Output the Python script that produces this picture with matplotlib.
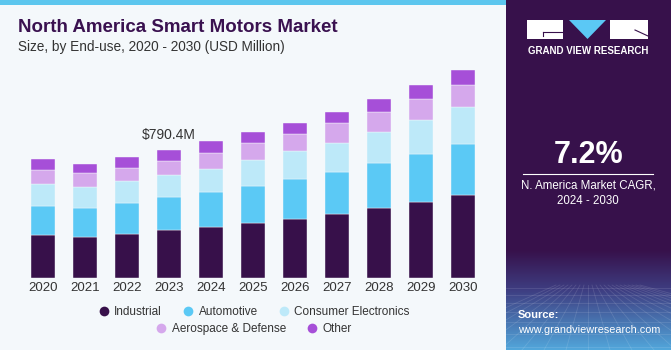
import numpy as np
import matplotlib.pyplot as plt
from matplotlib.patches import Rectangle, Polygon
from matplotlib.lines import Line2D

# data (USD Million)
years = ['2020', '2021', '2022', '2023', '2024', '2025', '2026', '2027', '2028', '2029', '2030']
industrial = [265, 256, 273, 296, 314, 343, 367, 398, 431, 468, 511]
automotive = [182, 179, 191, 203, 217, 226, 243, 257, 279, 299, 318]
consumer = [132, 129, 136, 137, 144, 158, 172, 180, 189, 209, 228]
aerospace = [90, 84, 82, 88, 99, 105, 105, 121, 127, 126, 136]
other = [64, 55, 66, 66, 72, 70, 70, 70, 78, 86, 92]
series_names = ['Industrial', 'Automotive', 'Consumer Electronics', 'Aerospace & Defense', 'Other']
colors = ['#37104A', '#5BC9F5', '#BDE9F9', '#D5A8EC', '#A64FD8']
callout_idx = 3
callout_text = '$790.4M'

W, H = 671, 350
BG = '#F4F8FB'
FONT = ['Liberation Sans', 'DejaVu Sans']
plt.rcParams['font.family'] = FONT


def fx(x):
    return x / W


def fy(y):
    return 1 - y / H


fig = plt.figure(figsize=(W / 100, H / 100), dpi=100, facecolor=BG)

# top strip
fig.patches.append(Rectangle((0, fy(5)), fx(506), 5 / H, transform=fig.transFigure,
                             facecolor='#5CC6EE', edgecolor='none', zorder=0))

# title
fig.text(fx(18), fy(28), 'North America Smart Motors Market', fontsize=13.5, fontweight='bold',
         color='#3A1150', va='center', ha='left')
fig.text(fx(18), fy(47), 'Size, by End-use, 2020 - 2030 (USD Million)', fontsize=9.8,
         color='#333333', va='center', ha='left')

# bars
base_y = 278.3
top_y = 60
ax = fig.add_axes([fx(22), fy(base_y), fx(484) - fx(22), (base_y - top_y) / H])
ax.set_facecolor(BG)
x = np.arange(len(years))
data = [industrial, automotive, consumer, aerospace, other]
bottom = np.zeros(len(years))
for vals, name, c in zip(data, series_names, colors):
    ax.bar(x, vals, width=0.57, bottom=bottom, color=c, label=name,
           edgecolor='#F4F8FB', linewidth=0.3)
    bottom = bottom + np.array(vals)

ax.annotate(callout_text, (x[callout_idx], bottom[callout_idx]), xytext=(0, 11),
            textcoords='offset points', ha='center', va='center', fontsize=10, color='#333333')

ax.set_xlim(-0.5, len(years) - 0.5)
ax.set_ylim(0, (base_y - top_y) * 790.4 / (base_y - 150))
ax.set_xticks(x)
ax.set_xticklabels(years, fontsize=9.5, color='#333333')
ax.tick_params(axis='x', length=0, pad=3)
ax.set_yticks([])
for s in ax.spines.values():
    s.set_visible(False)

# legend, two centered rows
handles = [Line2D([], [], marker='o', linestyle='none', markersize=7, markerfacecolor=c,
                  markeredgecolor='none') for c in colors]
leg1 = fig.legend(handles[:3], series_names[:3], loc='center', bbox_to_anchor=(fx(253), fy(312)),
                  ncol=3, frameon=False, fontsize=8.5, handletextpad=0.3, columnspacing=1.6,
                  handlelength=1.2, labelcolor='#333333')
leg2 = fig.legend(handles[3:], series_names[3:], loc='center', bbox_to_anchor=(fx(253), fy(329)),
                  ncol=2, frameon=False, fontsize=8.5, handletextpad=0.3, columnspacing=1.6,
                  handlelength=1.2, labelcolor='#333333')

# right panel
pax = fig.add_axes([fx(506), 0, 1 - fx(506), 1])
pax.set_xlim(506, 671)
pax.set_ylim(350, 0)
pax.axis('off')
rows = np.arange(350)
dark = np.array([0x37, 0x11, 0x4B]) / 255
mid = np.array([0x3E, 0x3E, 0x82]) / 255
low = np.array([0x52, 0xA8, 0xDC]) / 255
grad = np.zeros((350, 1, 3))
for r in rows:
    if r < 250:
        grad[r, 0] = dark
    elif r < 290:
        t = (r - 250) / 40
        grad[r, 0] = dark * (1 - t) + mid * t
    else:
        t = (r - 290) / 60
        grad[r, 0] = mid * (1 - t) + low * t
pax.imshow(grad, extent=(506, 671, 350, 0), aspect='auto', zorder=0)
# faint grid texture at bottom
for k in range(-8, 14):
    pax.plot([588 + k * 4, 588 + k * 22], [285, 350], color='white', alpha=0.12, lw=0.6, zorder=1)
for yy in [288, 295, 303, 312, 322, 334, 347]:
    pax.plot([506, 671], [yy, yy], color='white', alpha=0.12, lw=0.6, zorder=1)

# logo
pax.add_patch(Rectangle((527, 20), 36, 19, facecolor='white', edgecolor='none', zorder=2))
pax.plot([543, 563], [32, 32], color='#37114B', lw=0.8, zorder=3)
pax.plot([543, 543], [32, 36], color='#37114B', lw=0.8, zorder=3)
pax.add_patch(Polygon([(569, 20), (606, 20), (587.5, 39)], closed=True, facecolor='#5BC8F5',
                      edgecolor='none', zorder=2))
pax.add_patch(Rectangle((610, 20), 38, 19, facecolor='white', edgecolor='none', zorder=2))
pax.plot([635, 648], [30, 36], color='#37114B', lw=0.8, zorder=3)
pax.text(588, 51, 'GRAND VIEW RESEARCH', color='white', fontsize=7, fontweight='bold',
         ha='center', va='center', zorder=3)

pax.text(588.5, 155, '7.2%', color='white', fontsize=22, fontweight='bold', ha='center',
         va='center', zorder=3)
pax.plot([523, 653], [173.5, 173.5], color='white', lw=0.8, zorder=3)
pax.text(588, 185, 'N. America Market CAGR,', color='white', fontsize=8.3, ha='center',
         va='center', zorder=3)
pax.text(588, 201, '2024 - 2030', color='white', fontsize=8.3, ha='center', va='center', zorder=3)
pax.text(518, 315, 'Source:', color='white', fontsize=8, fontweight='bold', ha='left',
         va='center', zorder=3)
pax.text(518, 330, 'www.grandviewresearch.com', color='white', fontsize=7.8, ha='left',
         va='center', zorder=3)

fig.savefig('out.png', dpi=100, facecolor=BG)
